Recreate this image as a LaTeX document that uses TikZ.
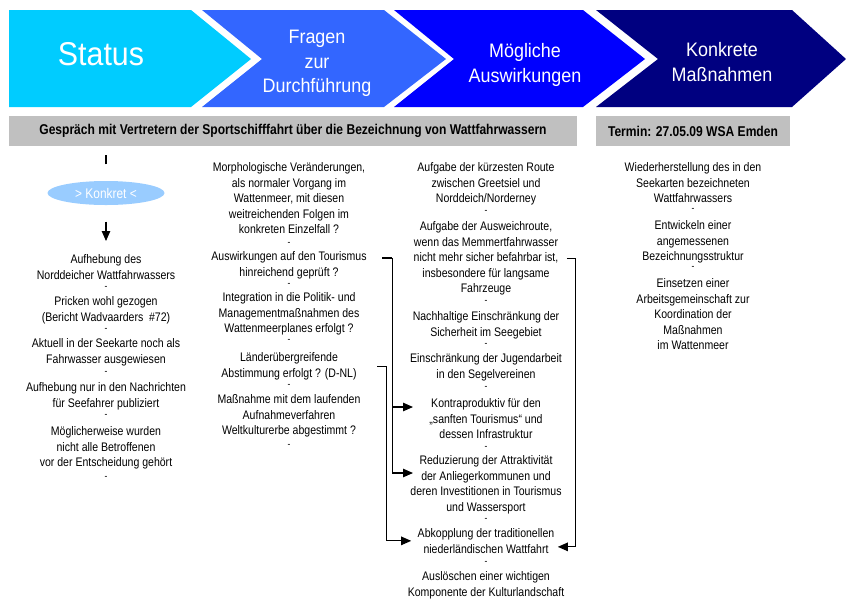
\documentclass[tikz,border=0pt]{standalone}
\usepackage{fontspec}
\setmainfont{Liberation Sans}
\newfontfamily\bodyfont[FakeStretch=0.85]{Liberation Sans}
\newfontfamily\headfont[FakeStretch=0.92]{Liberation Sans}
\usetikzlibrary{arrows.meta,shapes.geometric,calc}
\definecolor{statuscol}{HTML}{00CCFF}
\definecolor{fragencol}{HTML}{3366FF}
\definecolor{folgencol}{HTML}{0000FF}
\definecolor{massncol}{HTML}{000080}
\definecolor{bargray}{HTML}{C0C0C0}
\definecolor{konkretcol}{HTML}{99CCFF}
\begin{document}
\begin{tikzpicture}[x=1pt, y=-1pt, >={Triangle[length=10pt,width=8.5pt]}, line width=1.1pt,
  head/.style={font=\headfont\fontsize{19.5}{24.5}\selectfont, text=white, align=center, inner sep=0pt, anchor=north},
  bartext/.style={font=\bodyfont\bfseries\fontsize{14.2}{17}\selectfont, inner sep=0pt},
  item/.style={font=\bodyfont\fontsize{12.4}{15.5}\selectfont, align=center, inner sep=0pt, anchor=north},
  sep/.style={font=\bodyfont\fontsize{10}{12}\selectfont, inner sep=0pt}]
\useasboundingbox (0,0) rectangle (846,598);

% chevrons
\fill[statuscol] (9,10) -- (191,10) -- (251,59) -- (191,107) -- (9,107) -- cycle;
\fill[fragencol] (202,10) -- (384,10) -- (446,59) -- (384,107) -- (202,107) -- (262,59) -- cycle;
\fill[folgencol] (394,10) -- (583,10) -- (645,59) -- (583,107) -- (394,107) -- (454,59) -- cycle;
\fill[massncol] (596,10) -- (792,10) -- (846,59) -- (792,107) -- (596,107) -- (658,59) -- cycle;
\node[head, font=\headfont\fontsize{33}{36}\selectfont] (status) at (101,41.5) {Status};
\node[head] (fragen) at (317,30) {Fragen\\zur\\Durchführung};
\node[head] (folgen) at (525,43) {Mögliche\\Auswirkungen};
\node[head] (massn) at (722,42) {Konkrete\\Maßnahmen};

% grey bars
\fill[bargray] (9,116) rectangle (577,146);
\fill[bargray] (596,116) rectangle (790,146);
\node[bartext] (gespraech) at (293,131) {Gespräch mit Vertretern der Sportschifffahrt über die Bezeichnung von Wattfahrwassern};
\node[bartext] (termin) at (693,131) {Termin: 27.05.09 WSA Emden};

% Status
\node[ellipse, fill=konkretcol, minimum width=117pt, minimum height=24pt, inner sep=0pt,
  text=white, font=\bodyfont\fontsize{14}{16}\selectfont] (konkret) at (106,193) {> Konkret <};
\draw ([yshift=16pt]konkret.north) -- ++(0,-9);
\node[item] (s1) at (106,254) {Aufhebung des\\Norddeicher Wattfahrwassers};
\node[item] (s2) at (106,296) {Pricken wohl gezogen\\(Bericht Wadvaarders~ \#72)};
\node[item] (s3) at (106,338) {Aktuell in der Seekarte noch als\\Fahrwasser ausgewiesen};
\node[item] (s4) at (106,382) {Aufhebung nur in den Nachrichten\\für Seefahrer publiziert};
\node[item] (s5) at (106,426) {Möglicherweise wurden\\nicht alle Betroffenen\\vor der Entscheidung gehört};
\draw[->] ([yshift=-16pt]konkret.south) -- ([yshift=13pt]s1.north);

% Fragen
\node[item] (q1) at (289,162) {Morphologische Veränderungen,\\als normaler Vorgang im\\Wattenmeer, mit diesen\\weitreichenden Folgen im\\konkreten Einzelfall ?};
\node[item] (q2) at (289,251) {Auswirkungen auf den Tourismus\\hinreichend geprüft ?};
\node[item] (q3) at (289,292) {Integration in die Politik- und\\Managementmaßnahmen des\\Wattenmeerplanes erfolgt ?};
\node[item] (q4) at (289,352) {Länderübergreifende\\Abstimmung erfolgt ? (D-NL)};
\node[item] (q5) at (289,394) {Maßnahme mit dem laufenden\\Aufnahmeverfahren\\Weltkulturerbe abgestimmt ?};

% Auswirkungen
\node[item] (r1) at (486,162) {Aufgabe der kürzesten Route\\zwischen Greetsiel und\\Norddeich/Norderney};
\node[item] (r2) at (486,221) {Aufgabe der Ausweichroute,\\wenn das Memmertfahrwasser\\nicht mehr sicher befahrbar ist,\\insbesondere für langsame\\Fahrzeuge};
\node[item] (r3) at (486,311) {Nachhaltige Einschränkung der\\Sicherheit im Seegebiet};
\node[item] (r4) at (486,353) {Einschränkung der Jugendarbeit\\in den Segelvereinen};
\node[item] (r5) at (486,398) {Kontraproduktiv für den\\„sanften Tourismus“ und\\dessen Infrastruktur};
\node[item] (r6) at (486,455) {Reduzierung der Attraktivität\\der Anliegerkommunen und\\deren Investitionen in Tourismus\\und Wassersport};
\node[item] (r7) at (486,528) {Abkopplung der traditionellen\\niederländischen Wattfahrt};
\node[item] (r8) at (486,571) {Auslöschen einer wichtigen\\Komponente der Kulturlandschaft};

% Massnahmen
\node[item] (m1) at (693,162) {Wiederherstellung des in den\\Seekarten bezeichneten\\Wattfahrwassers};
\node[item] (m2) at (693,220) {Entwickeln einer\\angemessenen\\Bezeichnungsstruktur};
\node[item] (m3) at (693,278) {Einsetzen einer\\Arbeitsgemeinschaft zur\\Koordination der\\Maßnahmen\\im Wattenmeer};

\foreach \x/\y/\n in {106/288/d11, 106/330/d12, 106/373/d13, 106/416/d14, 106/478/d15,
  289/244/d21, 289/285/d22, 289/341/d23, 289/386/d24, 289/446/d25,
  486/212/d31, 486/302/d32, 486/345/d33, 486/388/d34, 486/448/d35, 486/520/d36, 486/563/d37,
  693/210/d41, 693/268/d42}
{
  \node[sep] (\n) at (\x,\y) {-};
}

% brackets
\draw ([xshift=15pt,yshift=-7pt]q2.north east) -- ++(10,0) coordinate (ja);
\draw[->] (ja) |- ($(r5.north)+(-73,9)$);
\draw[->] (ja) |- ($(r6.north)+(-73,18)$);
\draw[->] ([xshift=20pt]q4.east) -- ++(9,0) |- ($(r7.west)+(-6,0)$);
\draw[->] ([xshift=8pt]r2.east) -- ++(9,0) |- ($(r7.east)+(3,6)$);
\end{tikzpicture}
\end{document}
